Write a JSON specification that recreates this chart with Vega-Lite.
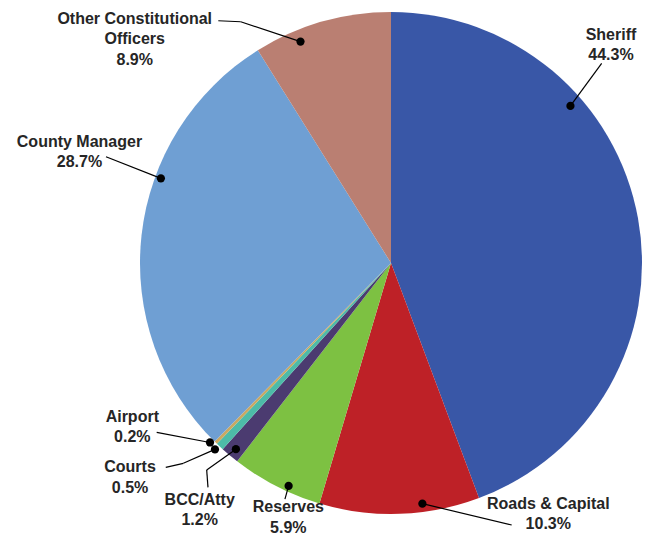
{
  "$schema": "https://vega.github.io/schema/vega-lite/v6.json",
  "width": 520,
  "height": 500,
  "autosize": {"type": "none"},
  "padding": {"left": 131, "top": 13, "right": 5, "bottom": 24},
  "background": "white",
  "config": {"view": {"stroke": null}},
  "params": [
    {
      "name": "callout",
      "value": {
        "Sheriff": [-30.94, 238.5, -34.52, 309.9, -9.3, 18.6, -9.3, 18.6],
        "Roads & Capital": [-5.45, 242.7, -30.09, 296.2, -36.6, 11, -36.6, 11],
        "Reserves": [-2.51, 245.3, -5.22, 274.5, -3.4, -18.4, -3.4, -18.4],
        "BCC/Atty": [-0.16, 242.3, -2.24, 312.7, 8.3, -23, 7, -40.3],
        "Courts": [0.34, 256.4, 7.56, 337.8, 35.7, -10.2, 53.3, -14.2],
        "Airport": [0.96, 254.9, 13.35, 306.3, 24.4, 5.3, 24.4, 5.3],
        "County Manager": [13.9, 245.2, 13.36, 330.8, 26.5, 5, 26.5, 5],
        "Other Constitutional Officers": [-6.21, 239.2, -32.88, 340.1, 83.6, -18.7, 106, -17.7]
      }
    }
  ],
  "data": {
    "values": [
      {"category": "Sheriff", "share": 44.3},
      {"category": "Roads & Capital", "share": 10.3},
      {"category": "Reserves", "share": 5.9},
      {"category": "BCC/Atty", "share": 1.2},
      {"category": "Courts", "share": 0.5},
      {"category": "Airport", "share": 0.2},
      {"category": "County Manager", "share": 28.7},
      {"category": "Other Constitutional Officers", "share": 8.9}
    ]
  },
  "transform": [
    {"window": [{"op": "row_number", "as": "idx"}]},
    {"stack": "share", "groupby": [], "sort": [{"field": "idx", "order": "ascending"}], "as": ["s0", "s1"]},
    {"calculate": "(datum.s0 + datum.s1) * 1.8", "as": "mid"},
    {"calculate": "callout[datum.category]", "as": "L"},
    {"calculate": "(datum.mid + datum.L[0]) * PI / 180", "as": "dotA"},
    {"calculate": "datum.L[1] * sin(datum.dotA)", "as": "dotX"},
    {"calculate": "-datum.L[1] * cos(datum.dotA)", "as": "dotY"},
    {"calculate": "(datum.mid + datum.L[2]) * PI / 180", "as": "labA"},
    {"calculate": "datum.L[3] * sin(datum.labA)", "as": "labX"},
    {"calculate": "-datum.L[3] * cos(datum.labA)", "as": "labY"},
    {"calculate": "datum.labX + datum.L[4]", "as": "endX"},
    {"calculate": "datum.labY + datum.L[5]", "as": "endY"},
    {"calculate": "datum.labX + datum.L[6]", "as": "elbX"},
    {"calculate": "datum.labY + datum.L[7]", "as": "elbY"},
    {"calculate": "length(datum.category) > 20 ? [substring(datum.category, 0, lastindexof(substring(datum.category, 0, 21), ' ')), substring(datum.category, lastindexof(substring(datum.category, 0, 21), ' ') + 1), format(datum.share, '.1f') + '%'] : [datum.category, format(datum.share, '.1f') + '%']", "as": "label"},
    {"calculate": "datum.labY - (length(datum.label) - 1) * 10.15", "as": "firstY"}
  ],
  "layer": [
    {
      "mark": {"type": "arc", "outerRadius": 251},
      "encoding": {
        "theta": {"field": "s0", "type": "quantitative", "stack": null, "scale": {"domain": [0, 100]}},
        "theta2": {"field": "s1"},
        "color": {
          "field": "category",
          "type": "nominal",
          "legend": null,
          "scale": {
            "domain": ["Sheriff", "Roads & Capital", "Reserves", "BCC/Atty", "Courts", "Airport", "County Manager", "Other Constitutional Officers"],
            "range": ["#3957A7", "#BE2127", "#7DC142", "#4B3B70", "#4DBBA8", "#C9A862", "#6F9FD3", "#BA7F72"]
          }
        }
      }
    },
    {
      "mark": {"type": "rule", "color": "#000000", "strokeWidth": 1.2},
      "encoding": {
        "x": {"field": "dotX", "type": "quantitative", "axis": null, "scale": {"domain": [-260, 260], "nice": false, "zero": false}},
        "y": {"field": "dotY", "type": "quantitative", "axis": null, "scale": {"domain": [-250, 250], "reverse": true, "nice": false, "zero": false}},
        "x2": {"field": "elbX"},
        "y2": {"field": "elbY"}
      }
    },
    {
      "mark": {"type": "rule", "color": "#000000", "strokeWidth": 1.2},
      "encoding": {
        "x": {"field": "elbX", "type": "quantitative", "axis": null, "scale": {"domain": [-260, 260], "nice": false, "zero": false}},
        "y": {"field": "elbY", "type": "quantitative", "axis": null, "scale": {"domain": [-250, 250], "reverse": true, "nice": false, "zero": false}},
        "x2": {"field": "endX"},
        "y2": {"field": "endY"}
      }
    },
    {
      "mark": {"type": "point", "filled": true, "color": "#000000", "opacity": 1, "size": 68},
      "encoding": {
        "x": {"field": "dotX", "type": "quantitative", "axis": null, "scale": {"domain": [-260, 260], "nice": false, "zero": false}},
        "y": {"field": "dotY", "type": "quantitative", "axis": null, "scale": {"domain": [-250, 250], "reverse": true, "nice": false, "zero": false}}
      }
    },
    {
      "mark": {"type": "text", "align": "center", "baseline": "middle", "font": "Liberation Sans", "fontWeight": "bold", "fontSize": 16, "lineHeight": 20.3, "color": "#262626"},
      "encoding": {
        "x": {"field": "labX", "type": "quantitative", "axis": null, "scale": {"domain": [-260, 260], "nice": false, "zero": false}},
        "y": {"field": "firstY", "type": "quantitative", "axis": null, "scale": {"domain": [-250, 250], "reverse": true, "nice": false, "zero": false}},
        "text": {"field": "label", "type": "nominal"}
      }
    }
  ]
}
